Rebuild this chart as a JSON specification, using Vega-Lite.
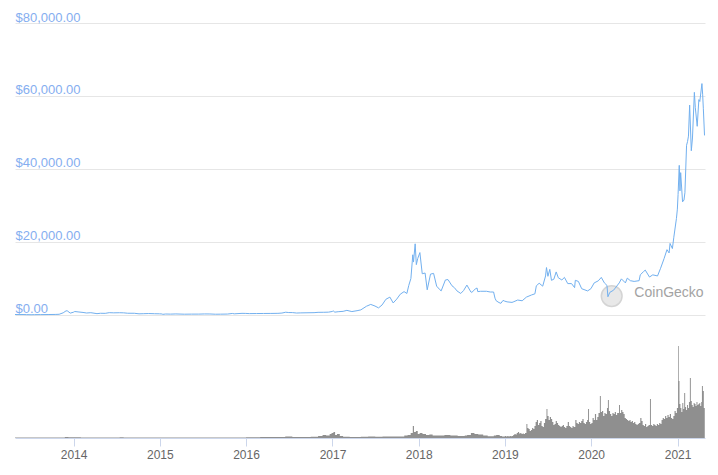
{
  "$schema": "https://vega.github.io/schema/vega-lite/v6.json",
  "width": 690,
  "height": 415,
  "autosize": {"type": "none"},
  "padding": {"left": 15, "top": 23, "right": 13, "bottom": 37},
  "background": "white",
  "config": {"view": {"stroke": null}, "font": "Liberation Sans"},
  "datasets": {
    "price": [
      {"date":"2013-04-28","price":135},{"date":"2013-05-15","price":115},{"date":"2013-06-01","price":129},{"date":"2013-06-15","price":100},{"date":"2013-07-05","price":70},{"date":"2013-07-20","price":95},{"date":"2013-08-15","price":110},{"date":"2013-09-15","price":130},{"date":"2013-10-15","price":150},{"date":"2013-11-01","price":200},{"date":"2013-11-18","price":600},{"date":"2013-11-30","price":1130},{"date":"2013-12-05","price":1150},{"date":"2013-12-18","price":520},{"date":"2013-12-31","price":750},
      {"date":"2014-01-06","price":950},{"date":"2014-01-20","price":850},{"date":"2014-02-10","price":700},{"date":"2014-02-25","price":550},{"date":"2014-03-15","price":630},{"date":"2014-04-10","price":370},{"date":"2014-04-25","price":470},{"date":"2014-05-15","price":450},{"date":"2014-06-01","price":640},{"date":"2014-06-20","price":590},{"date":"2014-07-15","price":620},{"date":"2014-08-01","price":590},{"date":"2014-08-18","price":480},{"date":"2014-09-15","price":470},{"date":"2014-10-05","price":320},{"date":"2014-10-25","price":360},{"date":"2014-11-15","price":400},{"date":"2014-12-10","price":350},{"date":"2014-12-31","price":320},
      {"date":"2015-01-10","price":280},{"date":"2015-01-14","price":180},{"date":"2015-01-26","price":270},{"date":"2015-02-15","price":240},{"date":"2015-03-10","price":290},{"date":"2015-04-15","price":220},{"date":"2015-05-15","price":240},{"date":"2015-06-15","price":245},{"date":"2015-07-10","price":290},{"date":"2015-08-01","price":280},{"date":"2015-08-25","price":210},{"date":"2015-09-15","price":230},{"date":"2015-10-15","price":260},{"date":"2015-11-04","price":420},{"date":"2015-11-12","price":320},{"date":"2015-12-15","price":450},{"date":"2015-12-31","price":430},
      {"date":"2016-01-15","price":380},{"date":"2016-02-15","price":400},{"date":"2016-03-15","price":415},{"date":"2016-04-15","price":430},{"date":"2016-05-15","price":455},{"date":"2016-06-01","price":530},{"date":"2016-06-17","price":760},{"date":"2016-06-30","price":670},{"date":"2016-07-15","price":665},{"date":"2016-08-02","price":540},{"date":"2016-08-20","price":580},{"date":"2016-09-15","price":610},{"date":"2016-10-15","price":640},{"date":"2016-11-01","price":730},{"date":"2016-11-25","price":740},{"date":"2016-12-15","price":780},{"date":"2016-12-31","price":960},
      {"date":"2017-01-04","price":1130},{"date":"2017-01-11","price":780},{"date":"2017-01-25","price":900},{"date":"2017-02-15","price":1000},{"date":"2017-03-03","price":1270},{"date":"2017-03-24","price":940},{"date":"2017-04-15","price":1180},{"date":"2017-05-01","price":1400},{"date":"2017-05-25","price":2400},{"date":"2017-06-12","price":2900},{"date":"2017-06-30","price":2450},{"date":"2017-07-15","price":1950},{"date":"2017-07-30","price":2750},{"date":"2017-08-15","price":4300},{"date":"2017-09-01","price":4900},{"date":"2017-09-15","price":3300},{"date":"2017-09-30","price":4350},{"date":"2017-10-15","price":5700},{"date":"2017-10-31","price":6400},{"date":"2017-11-12","price":5900},{"date":"2017-11-20","price":8100},{"date":"2017-11-29","price":10000},{"date":"2017-12-07","price":16500},{"date":"2017-12-10","price":14500},{"date":"2017-12-17","price":19500},{"date":"2017-12-22","price":13800},{"date":"2017-12-28","price":15500},
      {"date":"2018-01-06","price":17100},{"date":"2018-01-16","price":11300},{"date":"2018-01-28","price":11500},{"date":"2018-02-06","price":6900},{"date":"2018-02-20","price":11200},{"date":"2018-03-05","price":11400},{"date":"2018-03-18","price":7900},{"date":"2018-04-01","price":6900},{"date":"2018-04-06","price":6600},{"date":"2018-04-24","price":9600},{"date":"2018-05-05","price":9700},{"date":"2018-05-22","price":8000},{"date":"2018-06-01","price":7500},{"date":"2018-06-12","price":6600},{"date":"2018-06-28","price":5900},{"date":"2018-07-10","price":6700},{"date":"2018-07-24","price":8200},{"date":"2018-08-10","price":6300},{"date":"2018-08-14","price":6200},{"date":"2018-08-28","price":7100},{"date":"2018-09-05","price":7400},{"date":"2018-09-08","price":6400},{"date":"2018-09-20","price":6500},{"date":"2018-10-15","price":6500},{"date":"2018-10-31","price":6300},{"date":"2018-11-14","price":6300},{"date":"2018-11-20","price":4600},{"date":"2018-11-25","price":3900},{"date":"2018-12-07","price":3400},{"date":"2018-12-15","price":3200},{"date":"2018-12-24","price":4000},{"date":"2018-12-31","price":3800},
      {"date":"2019-01-10","price":3600},{"date":"2019-01-31","price":3450},{"date":"2019-02-08","price":3650},{"date":"2019-02-24","price":4100},{"date":"2019-03-15","price":3900},{"date":"2019-04-02","price":4900},{"date":"2019-04-24","price":5500},{"date":"2019-05-08","price":5800},{"date":"2019-05-14","price":8000},{"date":"2019-05-26","price":8700},{"date":"2019-06-10","price":7900},{"date":"2019-06-22","price":10700},{"date":"2019-06-26","price":13000},{"date":"2019-07-02","price":10600},{"date":"2019-07-10","price":12500},{"date":"2019-07-17","price":9500},{"date":"2019-07-27","price":9800},{"date":"2019-08-06","price":11800},{"date":"2019-08-15","price":10200},{"date":"2019-08-30","price":9600},{"date":"2019-09-10","price":10300},{"date":"2019-09-24","price":8600},{"date":"2019-10-10","price":8600},{"date":"2019-10-23","price":7500},{"date":"2019-10-26","price":9500},{"date":"2019-11-08","price":9200},{"date":"2019-11-22","price":7200},{"date":"2019-12-17","price":6600},{"date":"2019-12-31","price":7200},
      {"date":"2020-01-14","price":8800},{"date":"2020-01-31","price":9350},{"date":"2020-02-13","price":10300},{"date":"2020-02-26","price":8800},{"date":"2020-03-08","price":8100},{"date":"2020-03-12","price":5000},{"date":"2020-03-20","price":6200},{"date":"2020-04-05","price":6800},{"date":"2020-04-29","price":8800},{"date":"2020-05-08","price":9900},{"date":"2020-05-25","price":8800},{"date":"2020-06-02","price":10100},{"date":"2020-06-15","price":9400},{"date":"2020-07-01","price":9200},{"date":"2020-07-22","price":9400},{"date":"2020-07-27","price":11000},{"date":"2020-08-10","price":11900},{"date":"2020-08-17","price":12300},{"date":"2020-09-04","price":10400},{"date":"2020-09-18","price":11000},{"date":"2020-10-08","price":10700},{"date":"2020-10-21","price":12800},{"date":"2020-11-05","price":15500},{"date":"2020-11-17","price":17900},{"date":"2020-11-26","price":17000},{"date":"2020-11-30","price":19600},{"date":"2020-12-10","price":18200},{"date":"2020-12-16","price":21300},{"date":"2020-12-27","price":26400},{"date":"2020-12-31","price":29000},
      {"date":"2021-01-03","price":33000},{"date":"2021-01-08","price":41000},{"date":"2021-01-11","price":34000},{"date":"2021-01-14","price":39000},{"date":"2021-01-22","price":31000},{"date":"2021-01-28","price":31500},{"date":"2021-02-01","price":33500},{"date":"2021-02-08","price":46500},{"date":"2021-02-12","price":47500},{"date":"2021-02-16","price":49000},{"date":"2021-02-21","price":57500},{"date":"2021-02-28","price":45000},{"date":"2021-03-05","price":48500},{"date":"2021-03-13","price":61000},{"date":"2021-03-17","price":56800},{"date":"2021-03-25","price":51700},{"date":"2021-04-01","price":59000},{"date":"2021-04-05","price":58500},{"date":"2021-04-14","price":63400},{"date":"2021-04-17","price":60500},{"date":"2021-04-20","price":56500},{"date":"2021-04-25","price":49200}
    ],
    "vol": [
      {"date":"2013-04-28","volume":0.6},{"date":"2013-06-01","volume":0.5},{"date":"2013-08-01","volume":0.5},{"date":"2013-10-01","volume":0.6},{"date":"2013-11-25","volume":1},{"date":"2013-12-10","volume":0.8},{"date":"2014-02-01","volume":0.6},{"date":"2014-05-01","volume":0.5},{"date":"2014-07-15","volume":0.8},{"date":"2014-08-01","volume":0.5},{"date":"2014-11-01","volume":0.5},{"date":"2015-02-01","volume":0.5},{"date":"2015-06-01","volume":0.5},{"date":"2015-10-01","volume":0.6},{"date":"2016-01-01","volume":0.8},{"date":"2016-03-01","volume":1},{"date":"2016-05-01","volume":0.9},{"date":"2016-06-15","volume":1.5},{"date":"2016-07-15","volume":1},{"date":"2016-09-01","volume":1},{"date":"2016-10-01","volume":1.2},{"date":"2016-11-01","volume":2},{"date":"2016-11-20","volume":3},{"date":"2016-12-05","volume":2.5},{"date":"2016-12-20","volume":4},{"date":"2016-12-28","volume":5},{"date":"2017-01-05","volume":6},{"date":"2017-01-12","volume":3},{"date":"2017-01-20","volume":4},{"date":"2017-02-01","volume":2},{"date":"2017-02-15","volume":1.2},{"date":"2017-03-15","volume":1},{"date":"2017-05-01","volume":1.2},{"date":"2017-06-01","volume":1.5},{"date":"2017-07-01","volume":1.2},{"date":"2017-08-01","volume":1.5},{"date":"2017-09-01","volume":1.5},{"date":"2017-10-01","volume":1.5},{"date":"2017-11-01","volume":2.5},{"date":"2017-11-15","volume":3},{"date":"2017-11-28","volume":5},{"date":"2017-12-07","volume":12},{"date":"2017-12-12","volume":6},{"date":"2017-12-20","volume":7},{"date":"2017-12-28","volume":4},
      {"date":"2018-01-05","volume":5},{"date":"2018-01-17","volume":4},{"date":"2018-02-01","volume":3},{"date":"2018-02-15","volume":3.5},{"date":"2018-03-01","volume":2.5},{"date":"2018-04-01","volume":2.5},{"date":"2018-04-20","volume":3},{"date":"2018-05-15","volume":2.5},{"date":"2018-06-15","volume":2},{"date":"2018-07-15","volume":2.5},{"date":"2018-07-25","volume":3},{"date":"2018-08-10","volume":5},{"date":"2018-08-25","volume":4},{"date":"2018-09-10","volume":3.5},{"date":"2018-10-01","volume":2.5},{"date":"2018-10-20","volume":1.8},{"date":"2018-11-15","volume":2.5},{"date":"2018-11-25","volume":3},{"date":"2018-12-10","volume":2},{"date":"2018-12-20","volume":1.5},
      {"date":"2019-01-01","volume":2},{"date":"2019-01-06","volume":1.5},{"date":"2019-01-11","volume":2},{"date":"2019-01-16","volume":1.5},{"date":"2019-01-21","volume":2},{"date":"2019-01-26","volume":1.8},{"date":"2019-01-31","volume":2},{"date":"2019-02-05","volume":3},{"date":"2019-02-10","volume":4},{"date":"2019-02-15","volume":3.5},{"date":"2019-02-20","volume":5},{"date":"2019-02-25","volume":6},{"date":"2019-03-02","volume":4.5},{"date":"2019-03-07","volume":5},{"date":"2019-03-12","volume":4},{"date":"2019-03-17","volume":4.5},{"date":"2019-03-22","volume":4},{"date":"2019-03-27","volume":5},{"date":"2019-04-02","volume":14},{"date":"2019-04-06","volume":10},{"date":"2019-04-11","volume":9},{"date":"2019-04-16","volume":7},{"date":"2019-04-21","volume":8},{"date":"2019-04-26","volume":10},{"date":"2019-05-01","volume":9},{"date":"2019-05-06","volume":12},{"date":"2019-05-11","volume":16},{"date":"2019-05-16","volume":18},{"date":"2019-05-21","volume":13},{"date":"2019-05-26","volume":15},{"date":"2019-05-31","volume":17},{"date":"2019-06-05","volume":12},{"date":"2019-06-10","volume":11},{"date":"2019-06-15","volume":15},{"date":"2019-06-20","volume":19},{"date":"2019-06-26","volume":29},{"date":"2019-06-30","volume":22},{"date":"2019-07-05","volume":18},{"date":"2019-07-10","volume":21},{"date":"2019-07-15","volume":19},{"date":"2019-07-20","volume":16},{"date":"2019-07-25","volume":13},{"date":"2019-07-30","volume":14},{"date":"2019-08-04","volume":17},{"date":"2019-08-09","volume":15},{"date":"2019-08-14","volume":13},{"date":"2019-08-19","volume":12},{"date":"2019-08-24","volume":11},{"date":"2019-08-29","volume":12},{"date":"2019-09-03","volume":13},{"date":"2019-09-08","volume":11},{"date":"2019-09-13","volume":10},{"date":"2019-09-18","volume":12},{"date":"2019-09-24","volume":16},{"date":"2019-09-29","volume":12},{"date":"2019-10-04","volume":11},{"date":"2019-10-09","volume":10},{"date":"2019-10-14","volume":12},{"date":"2019-10-19","volume":11},{"date":"2019-10-26","volume":18},{"date":"2019-10-31","volume":15},{"date":"2019-11-05","volume":14},{"date":"2019-11-10","volume":16},{"date":"2019-11-15","volume":15},{"date":"2019-11-20","volume":17},{"date":"2019-11-25","volume":19},{"date":"2019-11-30","volume":15},{"date":"2019-12-05","volume":14},{"date":"2019-12-10","volume":16},{"date":"2019-12-15","volume":18},{"date":"2019-12-19","volume":29},{"date":"2019-12-23","volume":16},{"date":"2019-12-28","volume":14},
      {"date":"2020-01-02","volume":15},{"date":"2020-01-07","volume":20},{"date":"2020-01-12","volume":18},{"date":"2020-01-17","volume":24},{"date":"2020-01-22","volume":18},{"date":"2020-01-27","volume":21},{"date":"2020-02-01","volume":25},{"date":"2020-02-07","volume":42},{"date":"2020-02-11","volume":26},{"date":"2020-02-16","volume":27},{"date":"2020-02-21","volume":22},{"date":"2020-02-26","volume":25},{"date":"2020-03-02","volume":24},{"date":"2020-03-08","volume":30},{"date":"2020-03-12","volume":38},{"date":"2020-03-16","volume":27},{"date":"2020-03-21","volume":24},{"date":"2020-03-26","volume":22},{"date":"2020-03-31","volume":25},{"date":"2020-04-05","volume":24},{"date":"2020-04-10","volume":26},{"date":"2020-04-15","volume":23},{"date":"2020-04-20","volume":25},{"date":"2020-04-28","volume":33},{"date":"2020-05-02","volume":25},{"date":"2020-05-07","volume":28},{"date":"2020-05-12","volume":26},{"date":"2020-05-17","volume":24},{"date":"2020-05-22","volume":20},{"date":"2020-05-27","volume":19},{"date":"2020-06-01","volume":18},{"date":"2020-06-06","volume":17},{"date":"2020-06-11","volume":18},{"date":"2020-06-16","volume":16},{"date":"2020-06-21","volume":17},{"date":"2020-06-26","volume":15},{"date":"2020-07-01","volume":16},{"date":"2020-07-06","volume":14},{"date":"2020-07-11","volume":13},{"date":"2020-07-16","volume":14},{"date":"2020-07-21","volume":15},{"date":"2020-07-27","volume":20},{"date":"2020-08-01","volume":17},{"date":"2020-08-06","volume":13},{"date":"2020-08-11","volume":12},{"date":"2020-08-16","volume":14},{"date":"2020-08-21","volume":11},{"date":"2020-08-26","volume":12},{"date":"2020-08-31","volume":13},{"date":"2020-09-06","volume":39},{"date":"2020-09-10","volume":13},{"date":"2020-09-15","volume":12},{"date":"2020-09-20","volume":14},{"date":"2020-09-25","volume":13},{"date":"2020-09-30","volume":12},{"date":"2020-10-05","volume":14},{"date":"2020-10-10","volume":13},{"date":"2020-10-15","volume":15},{"date":"2020-10-20","volume":14},{"date":"2020-10-25","volume":18},{"date":"2020-10-30","volume":20},{"date":"2020-11-04","volume":19},{"date":"2020-11-09","volume":22},{"date":"2020-11-14","volume":20},{"date":"2020-11-19","volume":23},{"date":"2020-11-24","volume":21},{"date":"2020-11-29","volume":24},{"date":"2020-12-04","volume":20},{"date":"2020-12-09","volume":19},{"date":"2020-12-14","volume":22},{"date":"2020-12-19","volume":27},{"date":"2020-12-24","volume":25},{"date":"2020-12-29","volume":30},
      {"date":"2021-01-03","volume":92},{"date":"2021-01-06","volume":57},{"date":"2021-01-09","volume":34},{"date":"2021-01-13","volume":30},{"date":"2021-01-17","volume":26},{"date":"2021-01-21","volume":35},{"date":"2021-01-25","volume":29},{"date":"2021-01-29","volume":45},{"date":"2021-02-02","volume":31},{"date":"2021-02-06","volume":28},{"date":"2021-02-10","volume":33},{"date":"2021-02-14","volume":30},{"date":"2021-02-18","volume":36},{"date":"2021-02-22","volume":60},{"date":"2021-02-26","volume":37},{"date":"2021-03-02","volume":33},{"date":"2021-03-06","volume":31},{"date":"2021-03-10","volume":35},{"date":"2021-03-14","volume":34},{"date":"2021-03-18","volume":32},{"date":"2021-03-22","volume":36},{"date":"2021-03-26","volume":33},{"date":"2021-03-30","volume":34},{"date":"2021-04-03","volume":35},{"date":"2021-04-07","volume":32},{"date":"2021-04-11","volume":36},{"date":"2021-04-14","volume":52},{"date":"2021-04-18","volume":47},{"date":"2021-04-22","volume":30},{"date":"2021-04-26","volume":30}
    ],
    "logo": [
      {"date":"2020-03-28","price":5200}
    ],
    "wordmark": [
      {"date":"2020-07-02","price":6000,"label":"CoinGecko"}
    ]
  },
  "encoding": {
    "x": {
      "field": "date", "type": "temporal",
      "scale": {"type": "utc", "domain": [{"year": 2013, "month": 4, "date": 28, "utc": true}, {"year": 2021, "month": 4, "date": 27, "utc": true}], "nice": false},
      "axis": {
        "title": null, "format": "%Y", "grid": false,
        "values": [{"year":2014,"month":1,"date":1,"utc":true},{"year":2015,"month":1,"date":1,"utc":true},{"year":2016,"month":1,"date":1,"utc":true},{"year":2017,"month":1,"date":1,"utc":true},{"year":2018,"month":1,"date":1,"utc":true},{"year":2019,"month":1,"date":1,"utc":true},{"year":2020,"month":1,"date":1,"utc":true},{"year":2021,"month":1,"date":1,"utc":true}],
        "domainColor": "#ccd6eb", "domainWidth": 1, "tickColor": "#ccd6eb", "tickSize": 8, "tickWidth": 1,
        "labelColor": "#666666", "labelFontSize": 12, "labelFont": "Liberation Sans", "labelPadding": 3, "labelFlush": false, "labelOverlap": false
      }
    }
  },
  "layer": [
    {
      "data": {"name": "vol"},
      "mark": {"type": "area", "interpolate": "step-after", "color": "#8f8f8f"},
      "encoding": {
        "y": {"field": "volume", "type": "quantitative", "axis": null, "scale": {"domain": [0, 415], "nice": false, "zero": true}}
      }
    },
    {
      "encoding": {
        "y": {
          "field": "price", "type": "quantitative",
          "scale": {"domain": [-33700, 80000], "nice": false, "zero": false},
          "axis": {
            "title": null, "values": [0, 20000, 40000, 60000, 80000], "format": "$,.2f",
            "grid": true, "gridColor": "#e6e6e6", "gridWidth": 1,
            "domain": false, "ticks": false, "tickSize": 0,
            "labelAlign": "left", "labelBaseline": "alphabetic", "labelOffset": -2, "labelPadding": 0,
            "labelColor": "#85aef0", "labelFontSize": 13, "labelFont": "Liberation Sans", "labelBound": false, "labelFlush": false, "labelOverlap": false
          }
        }
      },
      "layer": [
        {
          "data": {"name": "logo"},
          "mark": {"type": "point", "filled": true, "shape": "circle", "size": 430, "color": "#e6e6e6", "stroke": "#d0d0d0", "strokeWidth": 1.5, "opacity": 0.9}
        },
        {
          "data": {"name": "wordmark"},
          "mark": {"type": "text", "align": "left", "baseline": "middle", "fontSize": 14, "color": "#a3a3a3", "font": "Liberation Sans"},
          "encoding": {"text": {"field": "label"}}
        },
        {
          "data": {"name": "price"},
          "mark": {"type": "line", "color": "#72b0ef", "strokeWidth": 1}
        }
      ]
    }
  ],
  "resolve": {"scale": {"y": "independent"}}
}
